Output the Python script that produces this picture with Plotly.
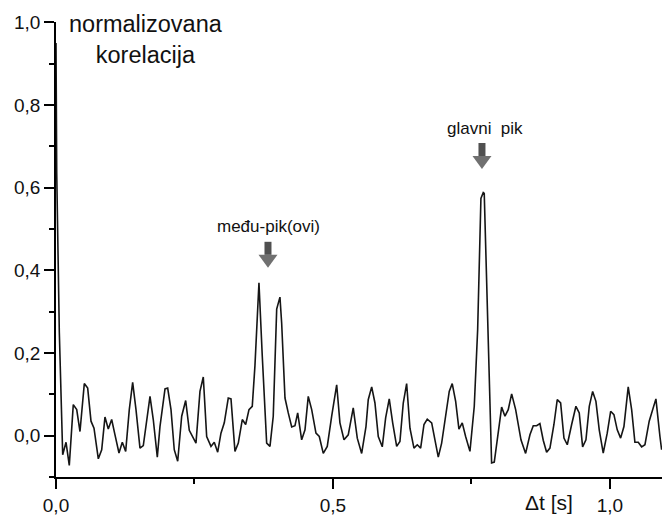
import plotly.graph_objects as go

# vremenski pomak [s] i normalizovana korelacija (očitano sa slike)
DT = [0.0, 0.0013, 0.006, 0.0121, 0.0181, 0.024, 0.0312, 0.0374, 0.0433, 0.0511,
      0.0572, 0.0632, 0.0686, 0.0764, 0.0825, 0.0884, 0.0944, 0.1005, 0.1065, 0.1137,
      0.1197, 0.1258, 0.1323, 0.1384, 0.1444, 0.1516, 0.1576, 0.1697, 0.1756, 0.1829,
      0.1877, 0.1968, 0.2016, 0.2076, 0.2135, 0.2197, 0.2269, 0.2341, 0.2406, 0.2527,
      0.2599, 0.2659, 0.272, 0.2798, 0.2857, 0.2919, 0.2978, 0.3038, 0.311, 0.3159,
      0.3231, 0.3291, 0.3363, 0.3424, 0.3484, 0.3543, 0.3592, 0.3664, 0.3724, 0.3803,
      0.3863, 0.3922, 0.3984, 0.4043, 0.4074, 0.4134, 0.4193, 0.4255, 0.4314, 0.4363,
      0.4435, 0.4495, 0.4554, 0.4616, 0.4693, 0.4753, 0.4825, 0.4897, 0.4977, 0.5067,
      0.5126, 0.5199, 0.5276, 0.5366, 0.5439, 0.5518, 0.5596, 0.5637, 0.5699, 0.5758,
      0.5818, 0.589, 0.5951, 0.6016, 0.6078, 0.615, 0.6209, 0.6269, 0.633, 0.639,
      0.6462, 0.6522, 0.6583, 0.6643, 0.6702, 0.6782, 0.6841, 0.6901, 0.6962, 0.7022,
      0.7099, 0.7153, 0.7215, 0.7274, 0.7334, 0.7395, 0.7473, 0.7551, 0.7612, 0.7671,
      0.7713, 0.7731, 0.7792, 0.7864, 0.7912, 0.7973, 0.8045, 0.8105, 0.8164, 0.8226,
      0.8298, 0.8394, 0.8478, 0.8556, 0.8616, 0.8677, 0.8736, 0.8796, 0.8857, 0.8917,
      0.8989, 0.9049, 0.911, 0.917, 0.923, 0.9309, 0.9386, 0.9446, 0.9507, 0.9567,
      0.9627, 0.9688, 0.9747, 0.9807, 0.9879, 0.9951, 1.0013, 1.0072, 1.0132, 1.0193,
      1.0253, 1.033, 1.0392, 1.0451, 1.0511, 1.0572, 1.0632, 1.0709, 1.083, 1.0903,
      1.0933]
KOR = [0.95, 0.635, 0.25, -0.046, -0.016, -0.072, 0.075, 0.063, 0.01, 0.126,
       0.115, 0.035, 0.018, -0.056, -0.034, 0.045, 0.016, 0.039, 0.002, -0.042,
       -0.016, -0.038, 0.063, 0.129, 0.063, -0.03, -0.024, 0.095, 0.039, -0.052,
       0.022, 0.113, 0.115, 0.063, -0.034, -0.062, 0.047, 0.085, 0.013, -0.018,
       0.107, 0.142, -0.002, -0.026, -0.016, -0.04, 0.006, 0.031, 0.091, 0.089,
       -0.038, -0.018, 0.039, 0.027, 0.063, 0.071, 0.17, 0.37, 0.192, -0.018,
       -0.026, 0.047, 0.306, 0.335, 0.272, 0.091, 0.055, 0.021, 0.024, 0.055,
       -0.01, 0.014, 0.095, 0.063, 0.006, -0.002, -0.043, -0.026, 0.047, 0.123,
       0.031, -0.01, 0.002, 0.067, -0.006, -0.043, 0.022, 0.087, 0.118, 0.079,
       -0.002, -0.027, 0.043, 0.089, 0.031, -0.026, -0.014, 0.079, 0.126, 0.018,
       -0.03, -0.022, -0.03, 0.027, 0.04, 0.031, -0.01, -0.052, -0.018, 0.035,
       0.107, 0.126, 0.083, 0.016, 0.031, -0.002, -0.038, 0.071, 0.256, 0.574,
       0.588, 0.586, 0.28, -0.066, -0.064, -0.002, 0.069, 0.047, 0.063, 0.101,
       0.063, -0.01, -0.043, 0.002, 0.024, 0.024, 0.029, -0.011, -0.04, -0.03,
       0.027, 0.087, 0.079, -0.006, -0.022, 0.027, 0.071, 0.055, -0.027, -0.01,
       0.071, 0.107, 0.083, 0.014, -0.042, 0.006, 0.059, 0.051, 0.014, -0.006,
       0.022, 0.118, 0.063, -0.016, -0.016, -0.027, -0.022, 0.035, 0.089, -0.002,
       -0.034]

# oznake pikova: (tekst, x, y teksta, x, y vrha strelice)
OZNAKE = [("među-pik(ovi)", 0.3845, 0.505, 0.3827, 0.406),
          ("glavni\u00a0 pik", 0.7753, 0.744, 0.769, 0.645)]

FONT = "Arial, Liberation Sans, sans-serif"

fig = go.Figure()
fig.add_trace(go.Scatter(x=DT, y=KOR, mode="lines", line=dict(color="#151515", width=1.6),
                         showlegend=False, hoverinfo="skip"))

shapes = []
for txt, tx, ty, ax, ay in OZNAKE:
    fig.add_annotation(x=tx, y=ty, xref="x", yref="y", text=txt, showarrow=False,
                       xanchor="center", yanchor="middle", font=dict(size=17, color="#111"))
    # strelica: trougao + drška (u pikselima u odnosu na vrh)
    shapes.append(dict(type="path", xref="x", yref="y", xsizemode="pixel", ysizemode="pixel",
                       xanchor=ax, yanchor=ay, path="M -9.5 13 L 9.5 13 L 0 0 Z",
                       fillcolor="#707070", line=dict(width=0)))
    shapes.append(dict(type="rect", xref="x", yref="y", xsizemode="pixel", ysizemode="pixel",
                       xanchor=ax, yanchor=ay, x0=-3.5, x1=3.5, y0=13, y1=26,
                       fillcolor="#505050", line=dict(width=0)))

fig.add_annotation(x=0.1485, y=0.9626, xref="paper", yref="paper",
                   text="normalizovana<br>korelacija", showarrow=False,
                   xanchor="center", yanchor="middle", font=dict(size=23.5, color="#111"))
fig.add_annotation(x=0.8135, y=-0.057, xref="paper", yref="paper",
                   text="Δt [s]", showarrow=False, xanchor="center", yanchor="middle",
                   font=dict(size=21, color="#111"))

fig.update_xaxes(range=[0, 1.094], tick0=0, dtick=0.5, tickformat=".1f",
                 ticks="outside", ticklen=10, tickwidth=1.5, tickcolor="black",
                 minor=dict(dtick=0.25, ticks="outside", ticklen=5, tickwidth=1.5, tickcolor="black"),
                 showline=True, linecolor="black", linewidth=1.5, automargin=False,
                 showgrid=False, zeroline=False, tickfont=dict(size=19, color="#111"))
fig.update_yaxes(range=[-0.1, 1.0005], tick0=0, dtick=0.2, tickformat=".1f",
                 ticks="outside", ticklen=10, tickwidth=1.5, tickcolor="black",
                 minor=dict(dtick=0.1, ticks="outside", ticklen=5, tickwidth=1.5, tickcolor="black"),
                 showline=True, linecolor="black", linewidth=1.5, automargin=False,
                 showgrid=False, zeroline=False, tickfont=dict(size=19, color="#111"))
fig.update_layout(width=662, height=520, margin=dict(l=56, r=0, t=22, b=43),
                  plot_bgcolor="white", paper_bgcolor="white", separators=", ",
                  font=dict(family=FONT), shapes=shapes)

# bez podrazumevane margine stranice (8 px) da slika stane u prozor
fig.write_html("out.html", config={"displayModeBar": False},
               post_script="document.body.style.margin='0';")
